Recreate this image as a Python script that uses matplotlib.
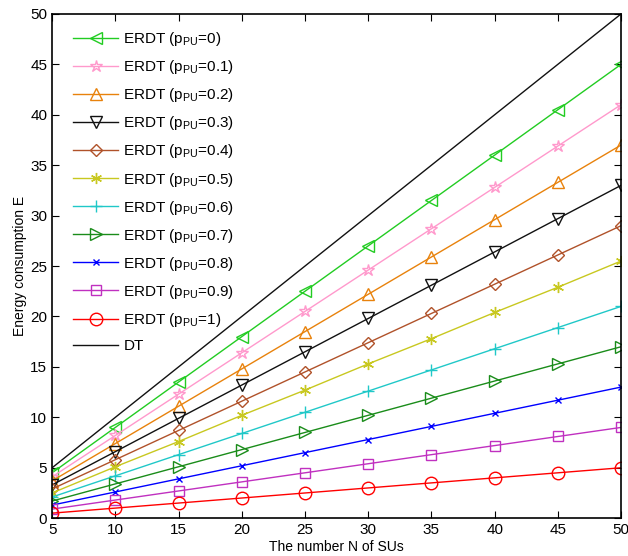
import matplotlib
matplotlib.use('Agg')
import matplotlib.pyplot as plt
import numpy as np

plt.rc('font', size=10, family='Liberation Sans')
plt.rc('mathtext', fontset='custom', rm='Liberation Sans', it='Liberation Sans')

N = [5, 10, 15, 20, 25, 30, 35, 40, 45, 50]

# energy values for each p_PU
e_p00 = [4.5, 9.0, 13.5, 18.0, 22.5, 27.0, 31.5, 36.0, 40.5, 45.0]
e_p01 = [4.1, 8.2, 12.3, 16.4, 20.5, 24.6, 28.7, 32.8, 36.9, 41.0]
e_p02 = [3.7, 7.4, 11.1, 14.8, 18.5, 22.2, 25.9, 29.6, 33.3, 37.0]
e_p03 = [3.3, 6.6, 9.9, 13.2, 16.5, 19.8, 23.1, 26.4, 29.7, 33.0]
e_p04 = [2.9, 5.8, 8.7, 11.6, 14.5, 17.4, 20.3, 23.2, 26.1, 29.0]
e_p05 = [2.5, 5.1, 7.6, 10.2, 12.7, 15.3, 17.8, 20.4, 22.9, 25.5]
e_p06 = [2.1, 4.2, 6.3, 8.4, 10.5, 12.6, 14.7, 16.8, 18.9, 21.0]
e_p07 = [1.7, 3.4, 5.1, 6.8, 8.5, 10.2, 11.9, 13.6, 15.3, 17.0]
e_p08 = [1.3, 2.6, 3.9, 5.2, 6.5, 7.8, 9.1, 10.4, 11.7, 13.0]
e_p09 = [0.9, 1.8, 2.7, 3.6, 4.5, 5.4, 6.3, 7.2, 8.1, 9.0]
e_p10 = [0.5, 1.0, 1.5, 2.0, 2.5, 3.0, 3.5, 4.0, 4.5, 5.0]
e_dt = [5, 10, 15, 20, 25, 30, 35, 40, 45, 50]

p_labels = ['0', '0.1', '0.2', '0.3', '0.4', '0.5', '0.6', '0.7', '0.8', '0.9', '1']
series = [e_p00, e_p01, e_p02, e_p03, e_p04, e_p05, e_p06, e_p07, e_p08, e_p09, e_p10]

colors = ['#22cc22', '#ff99cc', '#e8820c', '#111111', '#b0522a', '#c8c820',
          '#20c8c8', '#1a8c1a', '#0000ff', '#c030c0', '#ff0000']
markers = ['<', '*', '^', 'v', 'D', (6, 2, 0), '+', '>', 'x', 's', 'o']
msizes = [9, 9, 9, 9, 6, 8, 8, 9, 5, 7, 9]

fig = plt.figure(figsize=(6.28, 5.56), dpi=100)
ax = fig.add_axes([0.083, 0.068, 0.906, 0.907])

for vals, lab, c, m, ms in zip(series, p_labels, colors, markers, msizes):
    ax.plot(N, vals, color=c, marker=m, ms=ms, mfc='none', mec=c, lw=1,
            label=r'ERDT (p$_{\rm PU}$=' + lab + ')')
ax.plot(N, e_dt, color='#111111', lw=1, label='DT')

ax.set_xlim(5, 50)
ax.set_ylim(0, 50)
ax.set_xticks(N)
ax.set_yticks(np.arange(0, 51, 5))
ax.tick_params(direction='in', top=True, right=True, labelsize=11, length=5)
for s in ax.spines.values():
    s.set_linewidth(1.2)

ax.set_xlabel('The number N of SUs', fontsize=10, labelpad=2)
ax.set_ylabel('Energy consumption E', fontsize=10, labelpad=2)

ax.legend(loc='upper left', bbox_to_anchor=(0.026, 0.98), frameon=False,
          fontsize=11, handlelength=2.95, labelspacing=0.66, borderaxespad=0,
          handletextpad=0.35)

plt.savefig('out.png', dpi=100)
